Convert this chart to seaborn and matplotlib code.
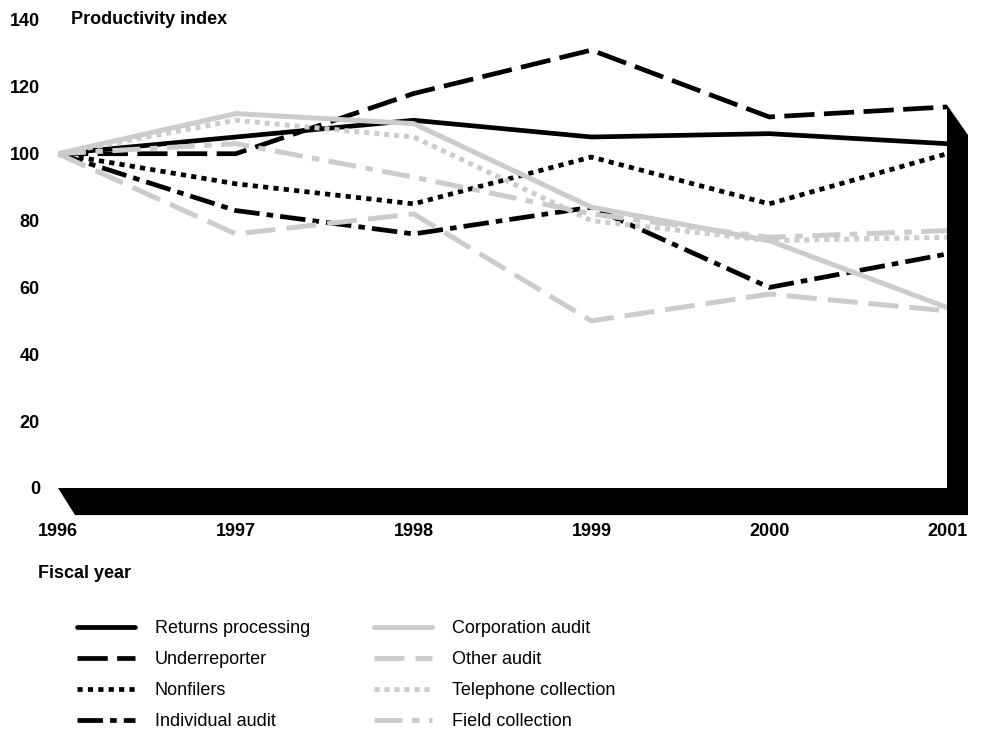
import pandas as pd
import matplotlib
matplotlib.use("Agg")
import matplotlib.pyplot as plt
import seaborn as sns
from matplotlib.patches import Polygon

# Productivity index by fiscal year (1996 = 100)
years = [1996, 1997, 1998, 1999, 2000, 2001]
returns_processing = [100, 105, 110, 105, 106, 103]
underreporter = [100, 100, 118, 131, 111, 114]
nonfilers = [100, 91, 85, 99, 85, 100]
individual_audit = [100, 83, 76, 84, 60, 70]
corporation_audit = [100, 112, 109, 84, 74, 54]
other_audit = [100, 76, 82, 50, 58, 53]
telephone_collection = [100, 110, 105, 80, 74, 75]
field_collection = [100, 103, 93, 82, 75, 77]

series = [
    ("Returns processing", returns_processing),
    ("Underreporter", underreporter),
    ("Nonfilers", nonfilers),
    ("Individual audit", individual_audit),
    ("Corporation audit", corporation_audit),
    ("Other audit", other_audit),
    ("Telephone collection", telephone_collection),
    ("Field collection", field_collection),
]

BLACK = "#000000"
GRAY = "#cccccc"
styles = {
    "Returns processing": (BLACK, 3.4, "-"),
    "Underreporter": (BLACK, 3.4, (0, (6.4, 2.0))),
    "Nonfilers": (BLACK, 3.4, (0, (1.1, 1.1))),
    "Individual audit": (BLACK, 3.4, (0, (5.4, 1.5, 1.4, 1.5))),
    "Corporation audit": (GRAY, 3.6, "-"),
    "Other audit": (GRAY, 3.6, (0, (6, 2.2))),
    "Telephone collection": (GRAY, 3.6, (0, (1.0, 1.0))),
    "Field collection": (GRAY, 3.6, (0, (5.6, 1.9, 1.5, 1.9))),
}

sns.set_style("white")
plt.rcParams["font.family"] = ["Liberation Sans", "DejaVu Sans"]
plt.rcParams["text.color"] = "black"
plt.rcParams["xtick.color"] = "black"
plt.rcParams["ytick.color"] = "black"

fig = plt.figure(figsize=(9.85, 7.34), dpi=100)
ax = fig.add_axes([58 / 985, 246 / 734, 889 / 985, 468 / 734])

for name, vals in series:
    color, lw, ls = styles[name]
    df = pd.DataFrame({"year": years, "index": vals})
    sns.lineplot(data=df, x="year", y="index", ax=ax, color=color,
                 linewidth=lw, linestyle=ls, label=name, zorder=3)

ax.set_xlim(1996, 2001)
ax.set_ylim(0, 140)

# black floor and right wall
floor = Polygon([(1996, 0), (2001, 0), (2001, 114.6), (2001.118, 105.6),
                 (2001.118, -8.1), (1996.096, -8.1)],
                closed=True, facecolor=BLACK, edgecolor="none",
                clip_on=False, zorder=2)
ax.add_patch(floor)

for s in ax.spines.values():
    s.set_visible(False)

ax.set_yticks(range(0, 141, 20))
ax.set_yticklabels([str(v) for v in range(0, 141, 20)],
                   fontsize=13, fontweight="bold")
ax.set_xticks(years)
ax.set_xticklabels([str(y) for y in years], fontsize=13, fontweight="bold")
ax.tick_params(axis="y", length=0, pad=13)
ax.tick_params(axis="x", length=0, pad=25.5)
ax.set_xlabel("")
ax.set_ylabel("")
ax.get_legend().remove()

fig.text(71 / 985, 1 - 19 / 734, "Productivity index", fontsize=13,
         fontweight="bold", ha="left", va="center")
fig.text(38 / 985, 1 - 574 / 734, "Fiscal year", fontsize=13,
         fontweight="bold", ha="left", va="center")

handles, labels = ax.get_legend_handles_labels()
fig.legend(handles, labels, ncol=2, loc="upper left",
           bbox_to_anchor=(77 / 985, 1 - 620 / 734), frameon=False,
           fontsize=13, handlelength=3.2, handletextpad=1.1,
           columnspacing=3.55, labelspacing=0.78, borderpad=0,
           borderaxespad=0)

fig.savefig("out.png", dpi=100)
